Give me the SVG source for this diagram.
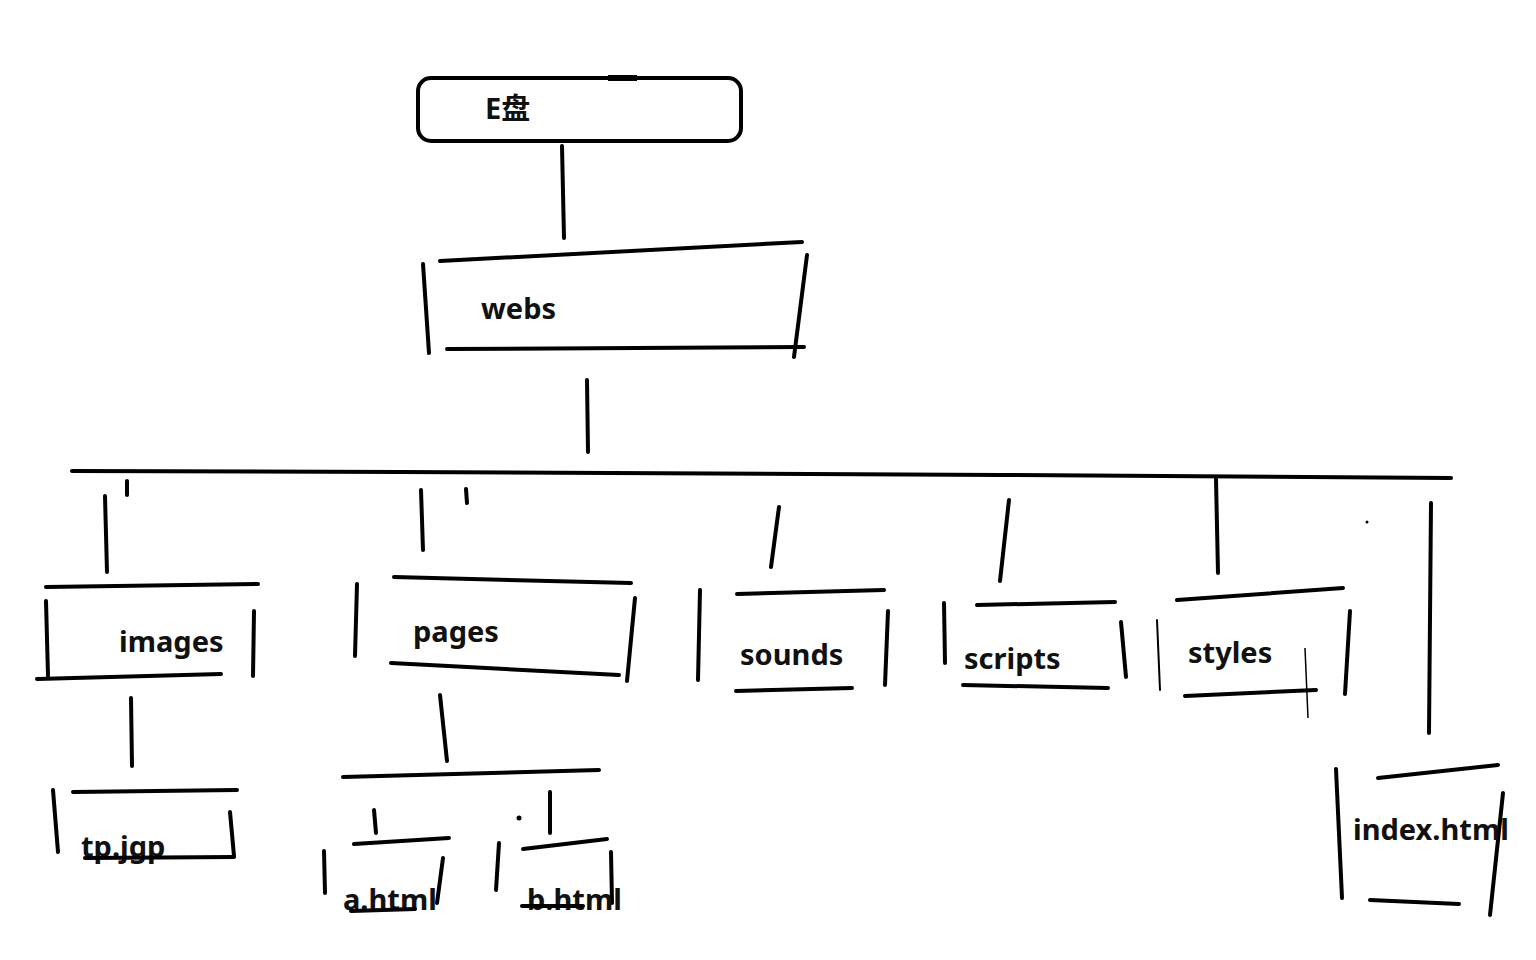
<svg xmlns="http://www.w3.org/2000/svg" width="1536" height="960" viewBox="0 0 1536 960">
<style>
.s{stroke:#000;stroke-width:4;stroke-linecap:round;fill:none}
.t{stroke:#000;stroke-width:2;stroke-linecap:round;fill:none}
.l{font-family:"Noto Sans","Noto Sans CJK SC",sans-serif;font-weight:bold;font-size:29px;fill:#111}
</style>
<rect width="1536" height="960" fill="#fff"/>
<g id="connectors">
<line class="s" x1="562" y1="146" x2="564" y2="238"/>
<line class="s" x1="587" y1="380" x2="588" y2="452"/>
<path class="s" d="M72,471 L400,472 L1000,475 L1451,478"/>
<line class="s" x1="127" y1="481" x2="127" y2="495"/>
<line class="s" x1="466" y1="489" x2="467" y2="503"/>
<line class="s" x1="105" y1="496" x2="107" y2="572"/>
<line class="s" x1="421" y1="490" x2="423" y2="550"/>
<line class="s" x1="779" y1="507" x2="771" y2="567"/>
<line class="s" x1="1009" y1="500" x2="1000" y2="581"/>
<line class="s" x1="1216" y1="479" x2="1218" y2="573"/>
<line class="s" x1="1431" y1="503" x2="1429" y2="733"/>
<circle cx="1367" cy="522" r="1.5" fill="#000"/>
<line class="s" x1="131" y1="698" x2="132" y2="766"/>
<line class="s" x1="440" y1="695" x2="447" y2="761"/>
<line class="s" x1="343" y1="777" x2="599" y2="770"/>
<line class="s" x1="374" y1="810" x2="376" y2="833"/>
<line class="s" x1="550" y1="792" x2="550" y2="833"/>
<circle cx="519" cy="818" r="2.5" fill="#000"/>
</g>
<g id="node-e">
<rect class="s" x="418" y="78" width="323" height="63" rx="13"/>
<line x1="608" y1="78" x2="637" y2="78" stroke="#000" stroke-width="6"/>
<text class="l" x="485" y="119" font-size="30" font-family="Noto Sans CJK SC, sans-serif">E盘</text>
</g>
<g id="node-webs">
<line class="s" x1="440" y1="261" x2="802" y2="242"/>
<line class="s" x1="423" y1="264" x2="429" y2="353"/>
<line class="s" x1="807" y1="255" x2="794" y2="357"/>
<line class="s" x1="447" y1="349" x2="804" y2="347"/>
<text class="l" x="481" y="319">webs</text>
</g>
<g id="node-images">
<line class="s" x1="46" y1="587" x2="258" y2="584"/>
<line class="s" x1="46" y1="601" x2="48" y2="676"/>
<line class="s" x1="254" y1="611" x2="253" y2="676"/>
<line class="s" x1="37" y1="679" x2="221" y2="674"/>
<text class="l" x="119" y="652">images</text>
</g>
<g id="node-pages">
<line class="s" x1="394" y1="577" x2="631" y2="583"/>
<line class="s" x1="357" y1="584" x2="355" y2="656"/>
<line class="s" x1="635" y1="598" x2="627" y2="681"/>
<line class="s" x1="391" y1="663" x2="619" y2="675"/>
<text class="l" x="413" y="642">pages</text>
</g>
<g id="node-sounds">
<line class="s" x1="737" y1="594" x2="884" y2="590"/>
<line class="s" x1="700" y1="590" x2="698" y2="680"/>
<line class="s" x1="888" y1="611" x2="885" y2="685"/>
<line class="s" x1="736" y1="691" x2="852" y2="688"/>
<text class="l" x="740" y="665">sounds</text>
</g>
<g id="node-scripts">
<line class="s" x1="977" y1="605" x2="1115" y2="602"/>
<line class="s" x1="944" y1="603" x2="945" y2="663"/>
<line class="s" x1="1121" y1="622" x2="1126" y2="677"/>
<line class="s" x1="963" y1="685" x2="1108" y2="688"/>
<text class="l" x="964" y="669">scripts</text>
</g>
<g id="node-styles">
<line class="s" x1="1177" y1="600" x2="1343" y2="588"/>
<line class="t" x1="1157" y1="620" x2="1160" y2="690"/>
<line class="s" x1="1350" y1="611" x2="1345" y2="694"/>
<line class="s" x1="1185" y1="696" x2="1316" y2="690"/>
<line x1="1305" y1="648" x2="1308" y2="718" stroke="#000" stroke-width="1.5"/>
<text class="l" x="1188" y="663">styles</text>
</g>
<g id="node-index">
<line class="s" x1="1378" y1="778" x2="1498" y2="765"/>
<line class="s" x1="1336" y1="769" x2="1342" y2="898"/>
<line class="s" x1="1503" y1="793" x2="1490" y2="915"/>
<line class="s" x1="1370" y1="900" x2="1459" y2="904"/>
<text class="l" x="1353" y="840">index.html</text>
</g>
<g id="node-tp">
<line class="s" x1="73" y1="792" x2="237" y2="790"/>
<line class="s" x1="53" y1="790" x2="58" y2="852"/>
<line class="s" x1="230" y1="812" x2="234" y2="856"/>
<text class="l" x="81" y="857">tp.jgp</text>
<line class="s" x1="85" y1="858" x2="234" y2="857"/>
</g>
<g id="node-a">
<line class="s" x1="354" y1="844" x2="449" y2="838"/>
<line class="s" x1="324" y1="851" x2="325" y2="893"/>
<line class="s" x1="443" y1="858" x2="437" y2="903"/>
<text class="l" x="343" y="910">a.html</text>
<line class="s" x1="351" y1="911" x2="415" y2="909"/>
</g>
<g id="node-b">
<line class="s" x1="523" y1="849" x2="607" y2="839"/>
<line class="s" x1="499" y1="843" x2="496" y2="890"/>
<line class="s" x1="611" y1="852" x2="612" y2="903"/>
<text class="l" x="527" y="910">b.html</text>
<line class="s" x1="522" y1="906" x2="583" y2="906"/>
</g>
</svg>
